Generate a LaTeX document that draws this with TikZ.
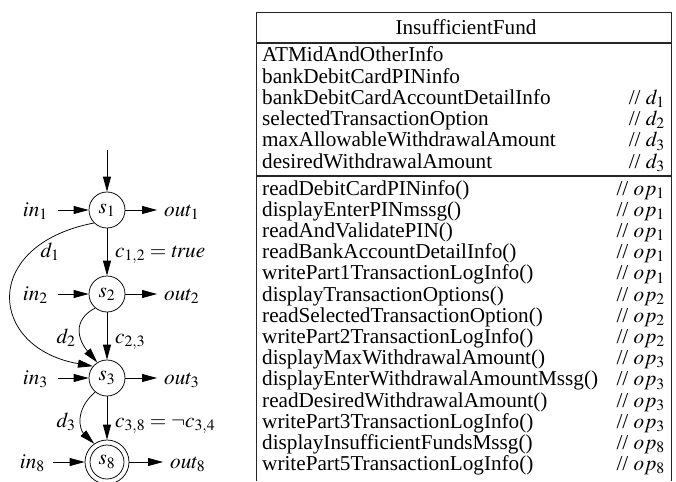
\documentclass[tikz,border=0pt]{standalone}
\usepackage{mathptmx}
\usepackage{fontspec}
\setmainfont{Liberation Serif}
\usetikzlibrary{arrows.meta,calc}
\begin{document}
\begin{tikzpicture}[x=1pt,y=-1pt,
  every node/.style={font=\fontsize{21.2}{21.2}\selectfont, inner sep=0pt},
  state/.style={draw, circle, minimum size=36pt, line width=0.75pt},
  flow/.style={-{Triangle[length=15pt,width=8pt]}, line width=0.75pt},
  frame/.style={line width=0.8pt, draw=black!85},
  rule/.style={line width=1.1pt, draw=black!85},
  lbl/.style={anchor=base},
  lblw/.style={anchor=base west},
  lble/.style={anchor=base east}]
\useasboundingbox (0,0) rectangle (676,481);

% ---- state machine ----
\node[state] (s1) at (107,210) {$s_1$};
\node[state] (s2) at (107,294) {$s_2$};
\node[state] (s3) at (107,378) {$s_3$};
\node[state, minimum size=44pt] (s8) at (107,462) {$s_8$};
\draw[line width=0.75pt] (s8.center) circle[radius=17pt];

\coordinate (start) at (107,150);
\draw[flow] (start) -- (s1);
\draw[flow] (s1) -- (s2);
\draw[flow] (s2) -- (s3);
\draw[flow] (s3) -- (s8);

% inputs and outputs
\foreach \n/\k in {s1/1, s2/2, s3/3}{
  \node[lble] (in\k) at ($(\n)+(-59,6.5)$) {$in_\k$};
  \node[lblw] (out\k) at ($(\n)+(57,6.5)$) {$out_\k$};
  \draw[flow, shorten <=10pt] (in\k.east |- \n.west) -- (\n.west);
  \draw[flow, shorten >=7pt] (\n.east) -- (out\k.west |- \n.east);
}
\node[lble] (in8) at (45,468) {$in_8$};
\node[lblw] (out8) at (170,468) {$out_8$};
\draw[flow, shorten <=8pt] (in8.east |- s8.west) -- (s8.west);
\draw[flow, shorten >=7pt] (s8.east) -- (out8.west |- s8.east);

% data-dependence arcs
\draw[flow] (s1.225) .. controls (-20,245) and (-12,348) .. (s3.140);
\draw[flow] (s2.230) .. controls (72,320) and (78,340) .. (s3.122);
\draw[flow] (s3.230) .. controls (74,410) and (80,430) .. (s8.125);

% edge labels
\node[lbl] (d1) at (50,257) {$d_1$};
\node[lbl] (d2) at (66,343) {$d_2$};
\node[lbl] (d3) at (66,427) {$d_3$};
\node[lblw] (c12) at (115,257) {$c_{1,2} = \mathit{true}$};
\node[lblw] (c23) at (115,343) {$c_{2,3}$};
\node[lblw] (c38) at (115,427) {$c_{3,8} = \neg c_{3,4}$};

% ---- class box ----
\coordinate (bl) at (256,481);
\coordinate (tl) at (256,12.7);
\coordinate (tr) at (671,12.7);
\coordinate (br) at (671,481);
\draw[frame] (bl) -- (tl) -- (tr) -- (br);
\draw[rule] (256,43) -- (671,43);
\draw[rule] (256,176) -- (671,176);

\node[lbl] (title) at (466,35) {InsufficientFund};

\foreach \t [count=\i from 0] in {ATMidAndOtherInfo, bankDebitCardPINinfo,
    bankDebitCardAccountDetailInfo, selectedTransactionOption,
    maxAllowableWithdrawalAmount, desiredWithdrawalAmount}
  \node[lblw] (attr\i) at (262,{62+21.2*\i}) {\t};
\foreach \k/\i in {1/2, 2/3, 3/4, 3/5}
  \node[lble] (dtag\i) at (665,{62+21.2*\i}) {// $d_\k$};

\foreach \t/\k [count=\i from 0] in {readDebitCardPINinfo()/1,
    displayEnterPINmssg()/1, readAndValidatePIN()/1,
    readBankAccountDetailInfo()/1, writePart1TransactionLogInfo()/1,
    displayTransactionOptions()/2, readSelectedTransactionOption()/2,
    writePart2TransactionLogInfo()/2, displayMaxWithdrawalAmount()/3,
    displayEnterWithdrawalAmountMssg()/3, readDesiredWithdrawalAmount()/3,
    writePart3TransactionLogInfo()/3, displayInsufficientFundsMssg()/8,
    writePart5TransactionLogInfo()/8}{
  \node[lblw] (op\i) at (262,{195+21.2*\i}) {\t};
  \node[lble] (optag\i) at (665,{195+21.2*\i}) {// $op_\k$};
}
\end{tikzpicture}
\end{document}
